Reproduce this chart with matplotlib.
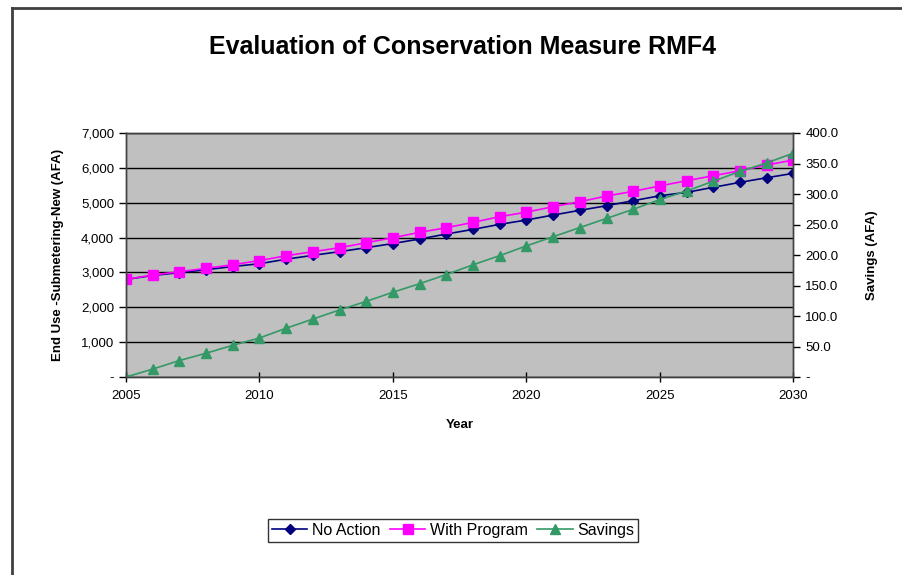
import matplotlib
matplotlib.use("Agg")
import matplotlib.pyplot as plt
from matplotlib.ticker import FuncFormatter, MultipleLocator
from matplotlib.lines import Line2D

plt.rcParams['font.family'] = ['Liberation Sans', 'DejaVu Sans']

years = list(range(2005, 2031))
no_action = [2800, 2913, 2994, 3079, 3170, 3250, 3380, 3490, 3597, 3710,
             3830, 3959, 4102, 4236, 4380, 4504, 4647, 4782, 4914, 5058,
             5200, 5298, 5442, 5585, 5717, 5843]
with_program = [2800, 2926, 3021, 3118, 3222, 3340, 3480, 3595, 3709, 3853,
                3996, 4150, 4283, 4437, 4600, 4730, 4886, 5030, 5192, 5327,
                5483, 5631, 5775, 5918, 6082, 6225]
savings = [0, 13, 27, 39, 52, 64, 80, 95, 110, 124, 139, 153, 168, 184, 199,
           215, 230, 245, 260, 275, 291, 305, 321, 337, 351, 367]

fig = plt.figure(figsize=(9.03, 5.75), dpi=100)
ax = fig.add_axes([0.1395, 0.3443, 0.7392, 0.4244])
ax2 = ax.twinx()

ax.set_facecolor('#C0C0C0')
ax.plot(years, no_action, color='#000080', marker='D', markersize=5.5, lw=1.2,
        label='No Action')
ax.plot(years, with_program, color='#FF00FF', marker='s', markersize=7, lw=1.2,
        label='With Program')
ax2.plot(years, savings, color='#339966', marker='^', markersize=7.5, lw=1.2,
         label='Savings')

ax.set_xlim(2005, 2030)
ax.set_ylim(0, 7000)
ax2.set_ylim(0, 400)
ax.xaxis.set_major_locator(MultipleLocator(5))
ax.yaxis.set_major_locator(MultipleLocator(1000))
ax2.yaxis.set_major_locator(MultipleLocator(50))
ax.grid(axis='y', color='black', lw=1)
ax.set_axisbelow(True)

ax.yaxis.set_major_formatter(FuncFormatter(lambda v, p: '-' if v == 0 else f'{v:,.0f}'))
ax2.yaxis.set_major_formatter(FuncFormatter(lambda v, p: '-' if v == 0 else f'{v:.1f}'))

for a in (ax, ax2):
    a.tick_params(labelsize=9.5, length=5, width=1, colors='black')
    for s in a.spines.values():
        s.set_color('#404040')
        s.set_linewidth(1)
ax.tick_params(axis='x', direction='inout', length=7, pad=6)

ax.set_xlabel('Year', fontsize=9.5, fontweight='bold', labelpad=12)
ax.set_ylabel('End Use -Submetering-New (AFA)', fontsize=9.5, fontweight='bold', labelpad=12)
ax2.set_ylabel('Savings (AFA)', fontsize=9.5, fontweight='bold', labelpad=20)

fig.text(0.512, 0.918, 'Evaluation of Conservation Measure RMF4', ha='center', va='center',
         fontsize=18, fontweight='bold')

handles = [Line2D([], [], color='#000080', marker='D', markersize=5.5, lw=1.2),
           Line2D([], [], color='#FF00FF', marker='s', markersize=7, lw=1.2),
           Line2D([], [], color='#339966', marker='^', markersize=7.5, lw=1.2)]
leg = fig.legend(handles, ['No Action', 'With Program', 'Savings'], loc='center',
                 bbox_to_anchor=(0.502, 0.078), ncol=3, fontsize=11.5, frameon=True,
                 fancybox=False, handlelength=2.2, handletextpad=0.3, columnspacing=0.6,
                 borderpad=0.25)
leg.get_frame().set_edgecolor('black')
leg.get_frame().set_linewidth(1)

# outer chart border
fig.add_artist(Line2D([12 / 903, 12 / 903], [0, 1 - 8 / 575], transform=fig.transFigure,
                      color='#404040', lw=2))
fig.add_artist(Line2D([12 / 903, 1], [1 - 8 / 575, 1 - 8 / 575], transform=fig.transFigure,
                      color='#404040', lw=2))

fig.savefig('out.png', dpi=100)
